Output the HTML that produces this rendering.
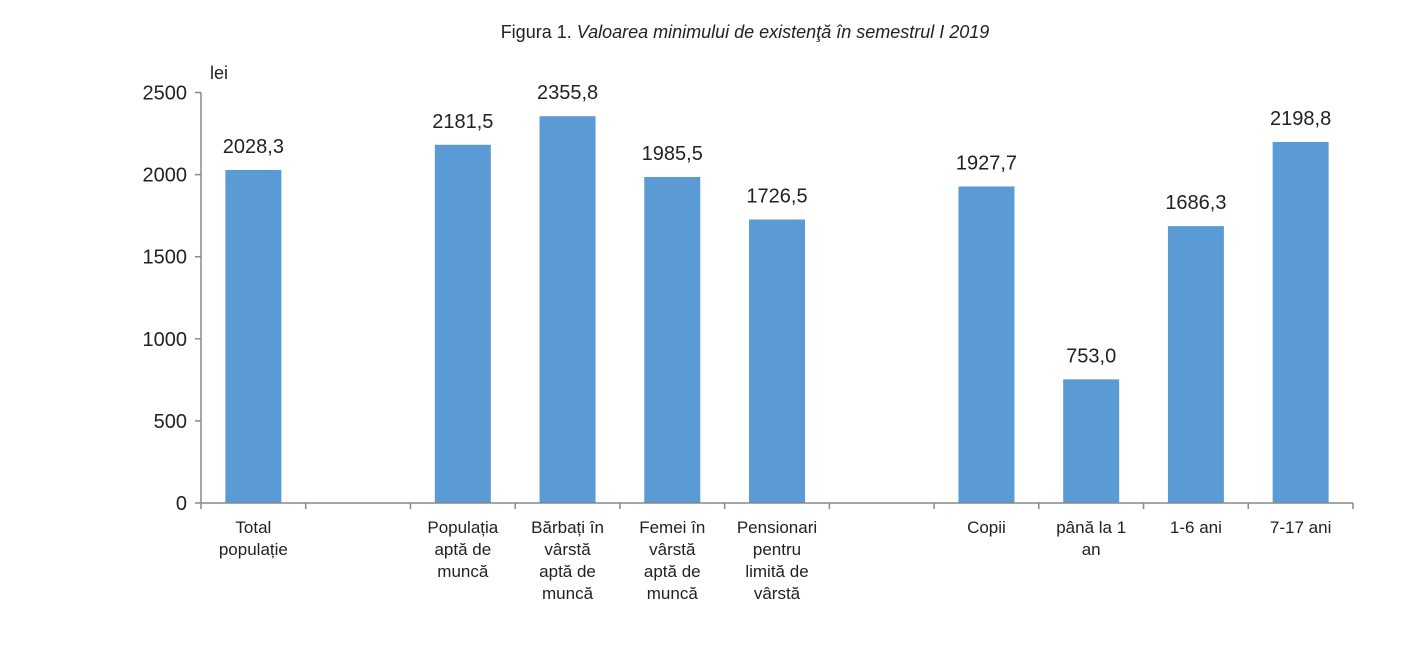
<!DOCTYPE html>
<html><head><meta charset="utf-8"><style>
body{margin:0;background:#fff;font-family:"Liberation Sans",Arial,sans-serif;}
svg text{font-family:"Liberation Sans",Arial,sans-serif;fill:#222;}
</style></head><body>
<svg id="chart" width="1414" height="644" xmlns="http://www.w3.org/2000/svg">
<text x="745" y="38" text-anchor="middle" font-size="18">Figura 1. <tspan font-style="italic">Valoarea minimului de existenţă în semestrul I 2019</tspan></text>
<text x="210" y="79" font-size="18">lei</text>
<g id="plot"></g>
</svg>
<script>
const categories=[["Total","populație"],[],["Populația","aptă de","muncă"],["Bărbați în","vârstă","aptă de","muncă"],["Femei în","vârstă","aptă de","muncă"],["Pensionari","pentru","limită de","vârstă"],[],["Copii"],["până la 1","an"],["1-6 ani"],["7-17 ani"]];
const values=[2028.3,null,2181.5,2355.8,1985.5,1726.5,null,1927.7,753.0,1686.3,2198.8];
const valueLabels=["2028,3","","2181,5","2355,8","1985,5","1726,5","","1927,7","753,0","1686,3","2198,8"];
const yTicks=[0,500,1000,1500,2000,2500];
const NS="http://www.w3.org/2000/svg";
const g=document.getElementById('plot');
const x0=201,x1=1353,y0=503,yTop=92.5,ymax=2500;
const slot=(x1-x0)/categories.length;
const yS=v=>y0-(v/ymax)*(y0-yTop);
const xC=i=>x0+slot*(i+0.5);
function el(t,a){const e=document.createElementNS(NS,t);for(const k in a)e.setAttribute(k,a[k]);g.appendChild(e);return e;}
yTicks.forEach(v=>{
 const l=el('line',{x1:x0-6,x2:x0,y1:yS(v),y2:yS(v),stroke:'#888','stroke-width':1.5});
 
 
 const t=el('text',{x:x0-14,y:yS(v)+7,'text-anchor':'end','font-size':20});
 t.textContent=v;
 
 
});
const ya=el('line',{x1:x0,x2:x0,y1:yTop,y2:y0,stroke:'#888','stroke-width':1.5});


values.forEach((v,i)=>{
 if(v!==null){
  const b=el('rect',{x:xC(i)-28,y:yS(v),width:56,height:y0-yS(v),fill:'#5b9bd5'});
  
  
  const t=el('text',{x:xC(i),y:yS(v)-17,'text-anchor':'middle','font-size':20});
  t.textContent=valueLabels[i];
  
  
 }
 categories[i].forEach((s,j)=>{
  const t=el('text',{x:xC(i),y:533+j*22,'text-anchor':'middle','font-size':17});
  t.textContent=s;
  
  
 });
});
for(let i=0;i<=categories.length;i++){
 const l=el('line',{x1:x0+slot*i,x2:x0+slot*i,y1:y0,y2:y0+6,stroke:'#888','stroke-width':1.5});
 
 
}
const xa=el('line',{x1:x0,x2:x1,y1:y0,y2:y0,stroke:'#888','stroke-width':1.5});


</script>
</body></html>
